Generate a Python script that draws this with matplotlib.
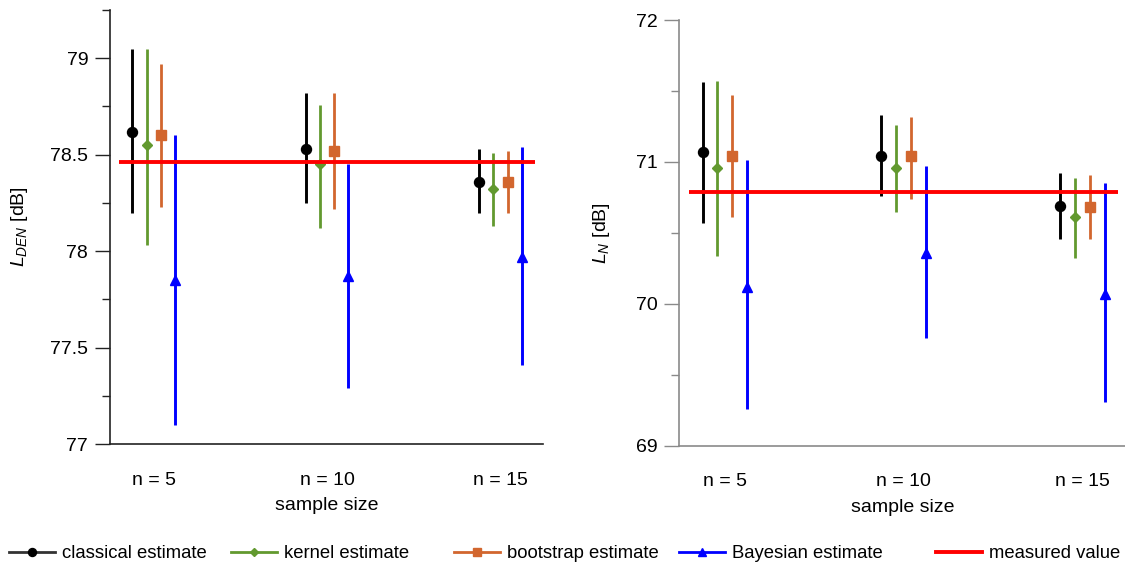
import matplotlib
matplotlib.use("Agg")
import matplotlib.pyplot as plt
import numpy as np
from matplotlib.ticker import FixedLocator, FuncFormatter
from matplotlib.lines import Line2D

plt.rcParams['font.family'] = ['Liberation Sans', 'DejaVu Sans']
plt.rcParams['mathtext.fontset'] = 'custom'
plt.rcParams['mathtext.rm'] = 'Liberation Sans'
plt.rcParams['mathtext.it'] = 'Liberation Sans:italic'

groups = ['n = 5', 'n = 10', 'n = 15']
series_names = ['classical estimate', 'kernel estimate', 'bootstrap estimate', 'Bayesian estimate']

# Left panel: L_DEN
classical_mean_L = [78.62, 78.53, 78.36]
classical_lo_L = [78.20, 78.25, 78.20]
classical_hi_L = [79.05, 78.82, 78.53]
kernel_mean_L = [78.55, 78.45, 78.32]
kernel_lo_L = [78.03, 78.12, 78.13]
kernel_hi_L = [79.05, 78.76, 78.51]
boot_mean_L = [78.60, 78.52, 78.36]
boot_lo_L = [78.23, 78.22, 78.20]
boot_hi_L = [78.97, 78.82, 78.52]
bayes_mean_L = [77.85, 77.87, 77.97]
bayes_lo_L = [77.10, 77.29, 77.41]
bayes_hi_L = [78.60, 78.45, 78.54]
measured_L = 78.46

# Right panel: L_N
classical_mean_N = [71.07, 71.04, 70.69]
classical_lo_N = [70.57, 70.76, 70.46]
classical_hi_N = [71.56, 71.33, 70.92]
kernel_mean_N = [70.96, 70.96, 70.61]
kernel_lo_N = [70.34, 70.65, 70.32]
kernel_hi_N = [71.57, 71.26, 70.89]
boot_mean_N = [71.04, 71.04, 70.68]
boot_lo_N = [70.61, 70.74, 70.46]
boot_hi_N = [71.47, 71.32, 70.91]
bayes_mean_N = [70.12, 70.36, 70.07]
bayes_lo_N = [69.26, 69.76, 69.31]
bayes_hi_N = [71.01, 70.97, 70.85]
measured_N = 70.79

colors = ['#000000', '#62992f', '#d2662e', '#0000ff']
markers = ['o', 'D', 's', '^']
msizes = [7.2, 5.0, 7.2, 6.8]
lws = [2.1, 2.0, 2.0, 2.1]
red = '#ff0000'

fig = plt.figure(figsize=(11.25, 5.67), dpi=100)
axL = fig.add_axes([0.0975, 0.2169, 0.3852, 0.7655])
axR = fig.add_axes([0.6038, 0.2139, 0.3975, 0.7508])

x = np.arange(1, len(groups) + 1)
step = 0.0825

def draw(ax, means, los, his, measured, spine_color, ylabel, ylim, major, minor, labcoord):
    for i in range(4):
        xi = x + i * step
        m = np.array(means[i]); lo = np.array(los[i]); hi = np.array(his[i])
        ax.vlines(xi, lo, hi, color=colors[i], lw=lws[i], zorder=2)
        ax.plot(xi, m, ls='none', marker=markers[i], ms=msizes[i], color=colors[i],
                mec=colors[i], zorder=3)
    ax.hlines(measured, x[0] - 0.075, x[-1] + 3 * step + 0.075, color=red, lw=2.8, zorder=4)
    ax.set_xlim(0.87, 3.37)
    ax.set_ylim(*ylim)
    ax.set_xticks(x + 1.5 * step)
    ax.set_xticklabels(groups, fontsize=14)
    ax.tick_params(axis='x', length=0, pad=20)
    ax.yaxis.set_major_locator(FixedLocator(major))
    ax.yaxis.set_minor_locator(FixedLocator(minor))
    ax.yaxis.set_major_formatter(FuncFormatter(lambda v, p: ('%g' % v)))
    ax.tick_params(axis='y', which='major', length=10.5, width=1.0, direction='out',
                   color=spine_color, labelsize=14, pad=5)
    ax.tick_params(axis='y', which='minor', length=6, width=1.0, direction='out', color=spine_color)
    for s in ['top', 'right']:
        ax.spines[s].set_visible(False)
    for s in ['left', 'bottom']:
        ax.spines[s].set_color(spine_color)
        ax.spines[s].set_linewidth(1.2)
    ax.set_xlabel('sample size', fontsize=14, labelpad=6)
    ax.set_ylabel(ylabel, fontsize=14)
    ax.yaxis.set_label_coords(labcoord, 0.5)

draw(axL,
     [classical_mean_L, kernel_mean_L, boot_mean_L, bayes_mean_L],
     [classical_lo_L, kernel_lo_L, boot_lo_L, bayes_lo_L],
     [classical_hi_L, kernel_hi_L, boot_hi_L, bayes_hi_L],
     measured_L, '#222222', r'$L_{DEN}$ [dB]', (77, 79.25),
     [77, 77.5, 78, 78.5, 79], [77.25, 77.75, 78.25, 78.75, 79.25], -0.185)
draw(axR,
     [classical_mean_N, kernel_mean_N, boot_mean_N, bayes_mean_N],
     [classical_lo_N, kernel_lo_N, boot_lo_N, bayes_lo_N],
     [classical_hi_N, kernel_hi_N, boot_hi_N, bayes_hi_N],
     measured_N, '#8a8a8a', r'$L_{N}$ [dB]', (69, 72),
     [69, 70, 71, 72], [69.5, 70.5, 71.5], -0.15)

# Legend entries placed in slots along the bottom
slot_x = [9, 231, 454, 679, 936]
labels = series_names + ['measured value']
for k, lab in enumerate(labels):
    if k < 4:
        h = Line2D([], [], color=colors[k] if k else '#333333', lw=2.0, marker=markers[k],
                   ms=msizes[k] * 0.8, mfc=colors[k], mec=colors[k])
    else:
        h = Line2D([], [], color=red, lw=2.8)
    fig.legend([h], [lab], loc='center left', bbox_to_anchor=(slot_x[k] / 1125, 1 - 553.5 / 567),
               frameon=False, fontsize=13.3, handlelength=2.5, handletextpad=0.36,
               borderpad=0, borderaxespad=0)

fig.savefig('out.png', dpi=100)
